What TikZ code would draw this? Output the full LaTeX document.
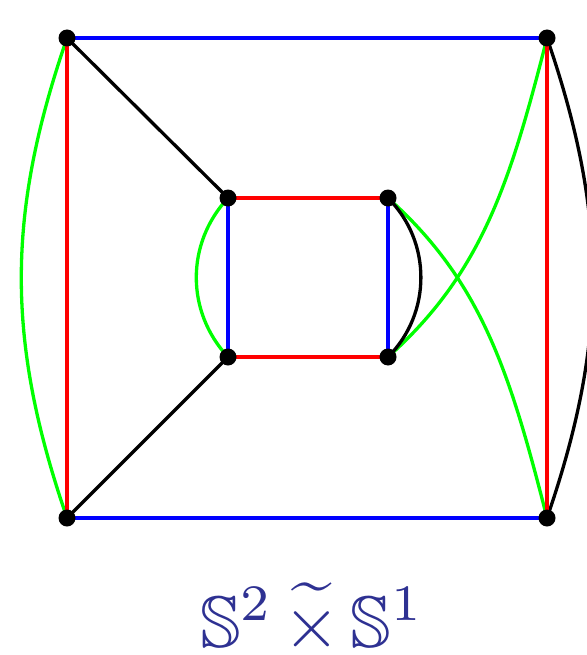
\documentclass[tikz,border=0pt]{standalone}
\usepackage{amssymb}
\definecolor{lblblue}{RGB}{46,49,146}
\definecolor{pgreen}{RGB}{0,255,0}
\begin{document}
\begin{tikzpicture}[x=1pt,y=-1pt,
  dot/.style={circle,fill=black,inner sep=0pt,minimum size=17pt},
  edge/.style={line width=3.3pt},
  bl/.style={edge,blue},
  rd/.style={edge,red},
  gr/.style={edge,pgreen},
  bk/.style={edge,black}]
\useasboundingbox (0,0) rectangle (586,655);
\coordinate (a) at (67,38);
\coordinate (b) at (547,38);
\coordinate (c) at (228,198);
\coordinate (d) at (388,198);
\coordinate (e) at (228,357);
\coordinate (f) at (388,357);
\coordinate (g) at (67,518);
\coordinate (h) at (547,518);
% green
\draw[gr] (a) to[bend right=19] (g);
\draw[gr] (c) to[bend right=43] (e);
\draw[gr] (d) .. controls +(94,84) and +(-37,-145) .. (h);
\draw[gr] (f) .. controls +(94,-84) and +(-37,145) .. (b);
% black
\draw[bk] (b) to[bend left=19] (h);
\draw[bk] (d) to[bend left=45] (f);
\draw[bk] (a) -- (c);
\draw[bk] (g) -- (e);
% blue
\draw[bl] (a) -- (b);
\draw[bl] (g) -- (h);
\draw[bl] (c) -- (e);
\draw[bl] (d) -- (f);
% red
\draw[rd] (a) -- (g);
\draw[rd] (b) -- (h);
\draw[rd] (c) -- (d);
\draw[rd] (e) -- (f);
% dots
\foreach \p in {a,b,c,d,e,f,g,h} \node[dot] (n\p) at (\p) {};
\node[anchor=base,text=lblblue,inner sep=0pt,scale=7.3] (lbl) at (312,647)
  {$\mathbb{S}^2\mkern2.5mu\widetilde{\times}\mkern2.5mu\mathbb{S}^1$};
\end{tikzpicture}
\end{document}
